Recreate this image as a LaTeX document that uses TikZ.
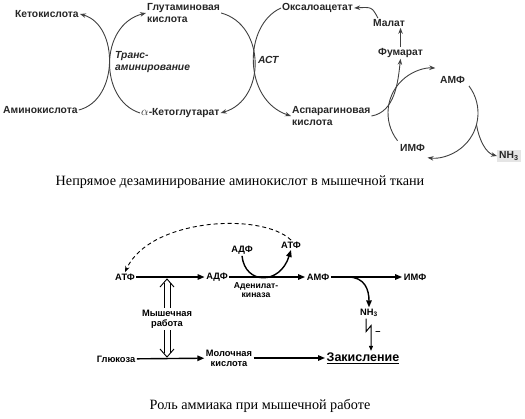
\documentclass[tikz,border=0pt]{standalone}
\usepackage{fontspec}
\setmainfont{Liberation Serif}
\setsansfont{Liberation Sans}
\usetikzlibrary{arrows.meta,calc}

\begin{document}
\begin{tikzpicture}[x={(1pt,0pt)}, y={(0pt,-1pt)}, >=Stealth,
        lbl/.style={font=\sffamily\bfseries\fontsize{10.3}{11.5}\selectfont, text=black!85, inner sep=1pt, align=left},
        sml/.style={font=\sffamily\bfseries\fontsize{9.3}{10.3}\selectfont, inner sep=1.5pt, align=center},
        rxn/.style={-{Stealth[length=6pt,width=4.5pt]}, line width=0.9pt, black!75},
        flowarr/.style={-{Triangle[length=7pt,width=5.5pt]}, line width=1.4pt},
        hollow/.style={line width=0.9pt, line join=miter},
        captxt/.style={font=\fontsize{14.2}{16}\selectfont}]
    \useasboundingbox (0,0) rectangle (525,418);
    % indirect deamination
    \node[lbl, anchor=west] (keto) at (14,14) {Кетокислота};
    \node[lbl, anchor=west] (amino) at (2,110) {Аминокислота};
    \node[lbl, anchor=west] (glu) at (146,13) {Глутаминовая\\кислота};
    \node[lbl, anchor=west] (akg) at (140,113) {{\fontsize{12.5}{12}\selectfont$\alpha$}-Кетоглутарат};
    \node[lbl, anchor=west, font=\sffamily\bfseries\itshape\fontsize{10.3}{12.5}\selectfont] (trans) at (114,62) {Транс-\\аминирование};
    \node[lbl, anchor=west, font=\sffamily\bfseries\itshape\fontsize{10.3}{11.5}\selectfont] (ast) at (257,60) {АСТ};
    \node[lbl, anchor=west] (oxa) at (281,8) {Оксалоацетат};
    \node[lbl, anchor=west] (malate) at (372,23) {Малат};
    \node[lbl, anchor=west] (fum) at (377,53) {Фумарат};
    \node[lbl, anchor=west] (asp) at (291,116) {Аспарагиновая\\кислота};
    \node[lbl, anchor=west] (amp1) at (439,80) {АМФ};
    \node[lbl, anchor=west] (imp1) at (399,148) {ИМФ};
    \node[lbl, anchor=west, fill=black!10, inner sep=2pt] (nh3a) at (497,156) {NH\textsubscript{3}};
    \coordinate (cyc) at (433,113);

    \draw[rxn] (amino.east) .. controls (119,100) and (119,25) .. (keto.east);
    \draw[rxn] (akg.west) .. controls (99,100) and (99,25) .. (glu.west);
    \draw[rxn] (glu.east) .. controls (266,25) and (266,100) .. (akg.east);
    \draw[rxn] (oxa.west) .. controls (243,25) and (243,100) .. (asp.west);
    \draw[rxn] (asp.east) .. controls (395,112) and (398,82) .. (fum.south);
    \draw[rxn] (fum.north) -- (fum.north |- malate.south);
    \draw[rxn] ([xshift=6]malate.north west) .. controls (372,7) .. (oxa.east);
    \draw[rxn] ($(cyc)+(142:45)$) arc[start angle=142, end angle=273, radius=45];
    \draw[rxn] ($(cyc)+(-37:45)$) arc[start angle=-37, end angle=97, radius=45];
    \draw[rxn] ($(cyc)+(15:45)$) .. controls (479,140) and (486,153) .. (nh3a.west);

    \node[captxt] (cap1) at (240,182) {Непрямое дезаминирование аминокислот в мышечной ткани};

    % ammonia and muscle work
    \node[sml] (atp1) at (125,277) {АТФ};
    \node[sml] (adp1) at (217,277) {АДФ};
    \node[sml] (amp2) at (318,277) {АМФ};
    \node[sml] (imp2) at (415,277) {ИМФ};
    \node[sml] (adp2) at (242,250) {АДФ};
    \node[sml] (atp2) at (291,245) {АТФ};
    \node[sml, font=\sffamily\bfseries\fontsize{8.6}{9.7}\selectfont] (kin) at (256,290) {Аденилат-\\киназа};
    \node[sml] (nh3b) at (369,313) {NH\textsubscript{3}};
    \node[sml, font=\sffamily\bfseries\fontsize{12.5}{14}\selectfont] (acid) at (363,358) {\underline{Закисление}};
    \node[sml] (gluc) at (116,359) {Глюкоза};
    \node[sml] (lact) at (229,358) {Молочная\\кислота};
    \node[sml] (work) at (167,319) {Мышечная\\работа};
    \coordinate (wup) at (work.north |- atp1.east);
    \coordinate (wdn) at (work.south |- gluc.east);

    \draw[flowarr] (atp1) -- (adp1);
    \draw[flowarr] (adp1) -- (amp2);
    \draw[flowarr] (amp2) -- (imp2);
    \draw[flowarr] (gluc) -- (lact);
    \draw[flowarr] (lact) -- (acid);
    \draw[flowarr] (adp2.south) .. controls (245,285) and (280,285) .. (atp2.south);
    \draw[flowarr] ($(amp2.east)+(17,0)$) .. controls (365,277) and (369,290) .. (nh3b.north);
    \draw[dashed, line width=0.9pt, dash pattern=on 4pt off 3pt, -{Stealth[length=6pt,width=4.5pt]}]
        (atp2.north) .. controls (262,212) and (150,218) .. (atp1.north);
    % double arrows of muscle work
    \draw[hollow] ([xshift=-3]work.north) -- ([shift={(-3,6)}]wup);
    \draw[hollow] ([xshift=3]work.north) -- ([shift={(3,6)}]wup);
    \draw[hollow] ([shift={(-7,10)}]wup) -- ([shift={(0,2)}]wup) -- ([shift={(7,10)}]wup);
    \draw[hollow] ([xshift=-3]work.south) -- ([shift={(-3,-6)}]wdn);
    \draw[hollow] ([xshift=3]work.south) -- ([shift={(3,-6)}]wdn);
    \draw[hollow] ([shift={(-7,-10)}]wdn) -- ([shift={(0,-2)}]wdn) -- ([shift={(7,-10)}]wdn);
    \draw[line width=1pt, -{Triangle[length=5pt,width=4pt]}]
        ([xshift=-3]nh3b.south) -- ++(0,13) -- ++(5,-6) -- ([xshift=2]nh3b.south |- acid.north);
    \node[sml] (minus) at (378,333) {--};

    \node[captxt] (cap2) at (260,406) {Роль аммиака при мышечной работе};
\end{tikzpicture}
\end{document}
